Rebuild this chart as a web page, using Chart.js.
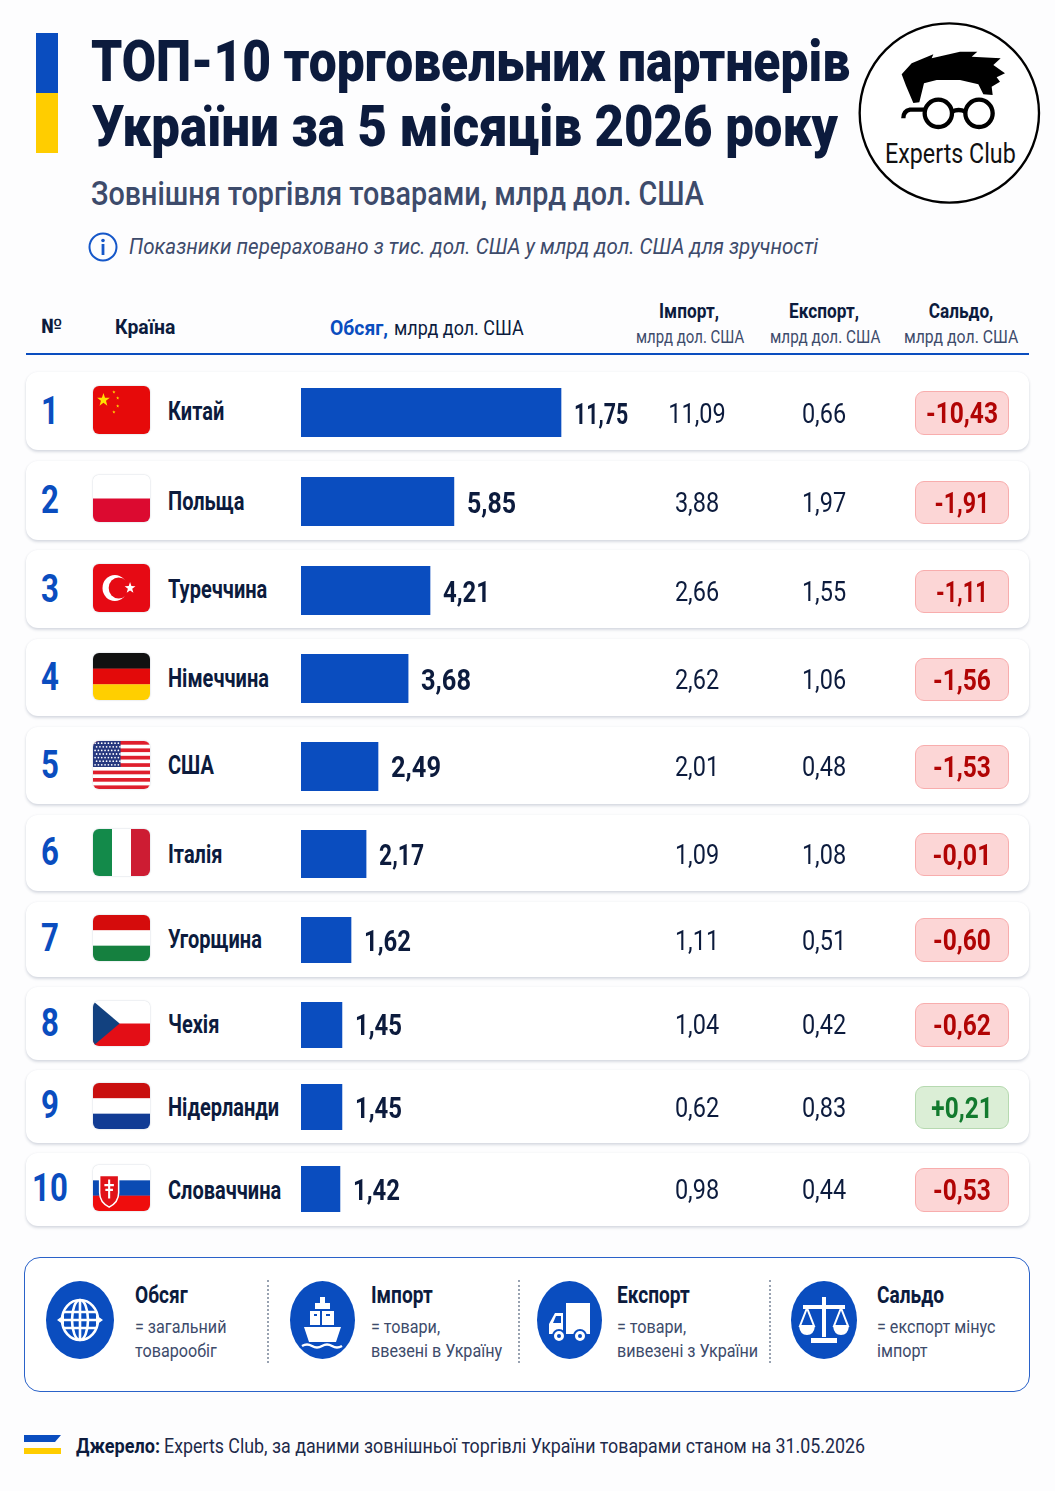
<!DOCTYPE html>
<html lang="uk">
<head>
<meta charset="utf-8">
<title>ТОП-10 торговельних партнерів України</title>
<script src="https://cdn.jsdelivr.net/npm/chart.js@4"></script>
<style>
html, body { margin: 0; padding: 0; }
body { width: 1055px; height: 1491px; position: relative; overflow: hidden; background: #fdfdfe; font-family: Roboto, sans-serif; }
.abs { position: absolute; }
.t { position: absolute; white-space: nowrap; line-height: 1; }
.card { position: absolute; left: 26px; width: 1003px; background: #fff; border-radius: 12px; box-shadow: 0 2px 3px rgba(30, 50, 90, .16), 0 0 3px rgba(30, 50, 90, .05); }
.flag { position: absolute; left: 93px; width: 57px; border-radius: 6px; overflow: hidden; box-shadow: 0 0 1.5px rgba(30, 50, 90, .35); }
.flag svg { display: block; width: 100%; height: 100%; }
.badge { position: absolute; left: 915px; width: 92px; border-radius: 9px; border: 1px solid #f8adad; background: #fcd6d6; }
.badge.plus { border-color: #b6d9b0; background: #dbeed6; }
.bar-wrap { position: absolute; left: 301px; width: 340px; }
.dots { position: absolute; width: 0; top: 1280px; height: 83px; border-left: 2px dotted #98a2b1; }
</style>
</head>
<body>
<script>
const countries = ['Китай', 'Польща', 'Туреччина', 'Німеччина', 'США', 'Італія', 'Угорщина', 'Чехія', 'Нідерланди', 'Словаччина'];
const volumes = [11.75, 5.85, 4.21, 3.68, 2.49, 2.17, 1.62, 1.45, 1.45, 1.42];
// bars in the picture are not in proportion to their labels, so lengths are read off separately (same units as 11,75)
const barLengths = [11.75, 6.91, 5.83, 4.84, 3.48, 2.94, 2.26, 1.85, 1.85, 1.76];
const imports = [11.09, 3.88, 2.66, 2.62, 2.01, 1.09, 1.11, 1.04, 0.62, 0.98];
const exports_ = [0.66, 1.97, 1.55, 1.06, 0.48, 1.08, 0.51, 0.42, 0.83, 0.44];
const balances = [-10.43, -1.91, -1.11, -1.56, -1.53, -0.01, -0.60, -0.62, 0.21, -0.53];
const flagCodes = ['cn', 'pl', 'tr', 'de', 'us', 'it', 'hu', 'cz', 'nl', 'sk'];

// layout, px
const cardTop = [372, 461, 550, 639, 727, 815, 902, 987, 1070, 1153];
const cardBottom = [450, 540, 628, 716, 804, 891, 977, 1060, 1143, 1226];
const barTop = [388, 477, 566, 654, 742, 830, 917, 1002, 1084, 1166];
const barBottom = [437, 526, 615, 703, 791, 878, 963, 1048, 1130, 1212];
const flagTop = [386, 475, 564, 653, 741, 829, 915, 1001, 1083, 1165];
const flagBottom = [434, 522, 612, 700, 789, 876, 961, 1046, 1129, 1211];
const badgeTop = [391, 481, 570, 658, 745, 833, 918, 1003, 1086, 1168];
const badgeBottom = [435, 524, 613, 701, 789, 876, 962, 1047, 1129, 1212];
const rankY = [411, 500, 589, 677, 765, 852, 938, 1023, 1105, 1188];
const nameY = [411, 501, 589, 678, 765, 854, 939, 1024, 1107, 1190];
const valueY = [414, 503, 592, 680, 767, 855, 941, 1025, 1108, 1190];
const labelWidth = [54, 49, 47, 50, 50, 45, 47, 47, 47, 47];
const badgeWidth = [72, 55, 52, 58, 58, 59, 58, 58, 61, 58];

const BLUE = '#0a4dbf', NAVY = '#0c1b3d', SLATE = '#3d4b6b';
const PX_PER_UNIT = 260 / 11.75;

function txt(str, x, cy, o) {
	const el = document.createElement('span');
	el.className = 't';
	el.textContent = str;
	el.style.fontSize = o.size + 'px';
	el.style.fontWeight = o.weight || 400;
	el.style.color = o.color || NAVY;
	if (o.italic) el.style.fontStyle = 'italic';
	el.style.left = x + 'px';
	el.style.top = cy + 'px';
	document.body.appendChild(el);
	let sx = o.sx || 1;
	if (o.w) sx = o.w / el.offsetWidth;
	if (o.center) {
		el.style.transform = `translate(-50%,-50%) scaleX(${sx})`;
	} else {
		el.style.transformOrigin = '0 50%';
		el.style.transform = `translateY(-50%) scaleX(${sx})`;
	}
	return el;
}

function box(cls, x, top, w, h, bg) {
	const el = document.createElement('div');
	el.className = cls;
	if (x !== null) el.style.left = x + 'px';
	el.style.top = top + 'px';
	if (w !== null) el.style.width = w + 'px';
	el.style.height = h + 'px';
	if (bg) el.style.background = bg;
	document.body.appendChild(el);
	return el;
}

function svg(x, y, w, h, vb, inner) {
	const d = document.createElement('div');
	d.className = 'abs';
	d.style.cssText = `left:${x}px;top:${y}px;width:${w}px;height:${h}px`;
	d.innerHTML = `<svg xmlns="http://www.w3.org/2000/svg" width="${w}" height="${h}" viewBox="${vb}" preserveAspectRatio="none" style="display:block">${inner}</svg>`;
	document.body.appendChild(d);
}

function star(cx, cy, r, fill) {
	let p = [];
	for (let i = 0; i < 10; i++) {
		const a = -Math.PI / 2 + i * Math.PI / 5, q = i % 2 ? r * 0.4 : r;
		p.push((cx + q * Math.cos(a)).toFixed(2) + ',' + (cy + q * Math.sin(a)).toFixed(2));
	}
	return `<polygon points="${p.join(' ')}" fill="${fill}"/>`;
}

function stripes(colors) {
	const h = 48 / colors.length;
	return colors.map((c, i) => `<rect x="0" y="${i * h}" width="60" height="${h + .2}" fill="${c}"/>`).join('');
}

function flagSvg(code) {
	if (code === 'cn') return `<rect width="60" height="48" fill="#e60a0a"/>` + star(11, 14, 7, '#ffe000') + star(22, 6, 1.8, '#ffe000') + star(26, 12, 1.8, '#ffe000') + star(26, 20, 1.8, '#ffe000') + star(22, 26, 1.8, '#ffe000');
	if (code === 'pl') return stripes(['#ffffff', '#dc0a30']);
	if (code === 'tr') return `<rect width="60" height="48" fill="#e60a14"/><circle cx="23" cy="24" r="13" fill="#fff"/><circle cx="27" cy="24" r="10.5" fill="#e60a14"/>` + star(39, 24, 6, '#fff');
	if (code === 'de') return stripes(['#111111', '#e30a0a', '#ffcf00']);
	if (code === 'us') {
		let s = '<rect width="60" height="48" fill="#fff"/>';
		for (let i = 0; i < 7; i++) s += `<rect y="${i * 7.4}" width="60" height="3.7" fill="#df1f2d"/>`;
		s += '<rect width="29" height="26" fill="#27397f"/>';
		for (let r = 0; r < 7; r++) for (let c = 0; c < 8; c++) s += `<circle cx="${2.2 + c * 3.5 + (r % 2) * 1.6}" cy="${2.2 + r * 3.6}" r=".9" fill="#fff"/>`;
		return s;
	}
	if (code === 'it') return `<rect width="20" height="48" fill="#138a4a"/><rect x="20" width="20" height="48" fill="#fff"/><rect x="40" width="20" height="48" fill="#cd1c33"/>`;
	if (code === 'hu') return stripes(['#d50c0c', '#ffffff', '#15803f']);
	if (code === 'cz') return stripes(['#ffffff', '#e30e16']) + `<polygon points="0,0 28,24 0,48" fill="#12417f"/>`;
	if (code === 'nl') return stripes(['#c9100f', '#ffffff', '#123c94']);
	if (code === 'sk') return stripes(['#ffffff', '#0b4bb3', '#ef0d0d']) + `<path d="M7 11h20v18c0 9-6 13-10 15c-4-2-10-6-10-15z" fill="#e11218" stroke="#fff" stroke-width="1.6"/><path d="M17 15v20M12 21h10M13 26h8" stroke="#fff" stroke-width="2.2"/>`;
	return '';
}

function fmt(v) { return v.toFixed(2).replace('.', ','); }
function fmtBalance(v) { return (v > 0 ? '+' : '-') + fmt(Math.abs(v)); }

// header
box('abs', 36, 33, 22, 60, '#0a4dbf');
box('abs', 36, 93, 22, 60, '#ffcd00');
txt('ТОП-10 торговельних партнерів', 91, 61, { size: 58, weight: 900, w: 759 });
txt('України за 5 місяців 2026 року', 92, 126, { size: 58, weight: 900, w: 746 });
txt('Зовнішня торгівля товарами, млрд дол. США', 91, 193, { size: 33, weight: 500, color: SLATE, w: 613 });
svg(88, 232, 30, 30, '0 0 30 30', `<circle cx="15" cy="15" r="13.5" fill="none" stroke="#1557c9" stroke-width="2"/><circle cx="15" cy="8.5" r="1.8" fill="#1557c9"/><rect x="13.6" y="12" width="2.8" height="11" fill="#1557c9"/>`);
txt('Показники перераховано з тис. дол. США у млрд дол. США для зручності', 129, 247, { size: 22, italic: true, color: SLATE, w: 689 });

// logo
svg(850, 15, 200, 200, '0 0 600 600', `
<circle cx="298" cy="294" r="269" fill="#fff" stroke="#000" stroke-width="7"/>
<path d="M190 264 L168 212 L155 178 L185 145 L250 118 L245 130 L330 110 L382 110 L365 125 L452 130 L430 150 L465 175 L440 187 L450 200 L425 215 L428 240 L400 238 L385 208 L330 195 L260 195 L222 205 L208 262 Z" fill="#000"/>
<g fill="none" stroke="#000" stroke-width="13"><circle cx="265" cy="295" r="41"/><circle cx="387" cy="295" r="41"/><path d="M306 290 Q326 280 346 290"/><path d="M226 284 L180 284 Q160 288 160 310"/></g>`);
txt('Experts Club', 885, 154, { size: 27, color: '#111', w: 131 });

// table header
txt('№', 41, 326, { size: 20, weight: 700, w: 21 });
txt('Країна', 115, 327, { size: 21, weight: 700, w: 60 });
txt('Обсяг,', 330, 328, { size: 21, weight: 700, color: BLUE, w: 58 });
txt('млрд дол. США', 394, 328, { size: 20, w: 130 });
const heads = [['Імпорт,', 689, 636, 108], ['Експорт,', 824, 770, 110], ['Сальдо,', 961, 904, 114]];
heads.forEach(h => {
	txt(h[0], h[1], 311, { size: 21, weight: 700, center: true, sx: 0.82 });
	txt('млрд дол. США', h[2], 336, { size: 19, color: SLATE, w: h[3] });
});
box('abs', 26, 353, 1003, 2, '#0a4dbf');

// rows
const rowCharts = [];
countries.forEach((name, i) => {
	box('card', null, cardTop[i], null, cardBottom[i] - cardTop[i]);

	const f = box('flag', null, flagTop[i], null, flagBottom[i] - flagTop[i]);
	f.innerHTML = `<svg xmlns="http://www.w3.org/2000/svg" viewBox="0 0 60 48" preserveAspectRatio="none">${flagSvg(flagCodes[i])}</svg>`;

	const wrap = box('bar-wrap', null, barTop[i], null, barBottom[i] - barTop[i]);
	const cv = document.createElement('canvas');
	cv.width = 340;
	cv.height = barBottom[i] - barTop[i];
	wrap.appendChild(cv);
	const chart = new Chart(cv.getContext('2d'), {
		type: 'bar',
		data: {
			labels: [name],
			datasets: [{ label: 'Обсяг', data: [barLengths[i]], backgroundColor: BLUE, barPercentage: 1, categoryPercentage: 1 }]
		},
		options: {
			indexAxis: 'y',
			responsive: false,
			animation: false,
			layout: { padding: 0 },
			plugins: { legend: { display: false }, tooltip: { enabled: false } },
			scales: {
				x: { display: false, min: 0, max: 340 / PX_PER_UNIT },
				y: { display: false }
			}
		}
	});
	rowCharts.push(chart);
	const barEnd = 301 + chart.scales.x.getPixelForValue(barLengths[i]);

	txt(String(i + 1), 50, rankY[i], { size: 39, weight: 700, color: BLUE, center: true, sx: 0.8 });
	txt(name, 168, nameY[i], { size: 25, weight: 700, sx: 0.8 });
	txt(fmt(volumes[i]), barEnd + 13, valueY[i], { size: 30, weight: 700, w: labelWidth[i] });
	txt(fmt(imports[i]), 697, valueY[i], { size: 27, center: true, sx: 0.87 });
	txt(fmt(exports_[i]), 824, valueY[i], { size: 27, center: true, sx: 0.87 });

	const plus = balances[i] > 0;
	box('badge' + (plus ? ' plus' : ''), null, badgeTop[i], null, badgeBottom[i] - badgeTop[i] - 2);
	const by = (badgeTop[i] + badgeBottom[i]) / 2;
	const bt = txt(fmtBalance(balances[i]), 962, by, { size: 30, weight: 700, color: plus ? '#127a2e' : '#b10404', center: true });
	bt.style.transform = `translate(-50%,-50%) scaleX(${badgeWidth[i] / bt.offsetWidth})`;
});

// legend panel
const panel = box('abs', 24, 1257, 1004, 133, '#fff');
panel.style.border = '1.5px solid #2a62c9';
panel.style.borderRadius = '16px';
[267, 518, 769].forEach(x => box('dots', x, 1280, null, 83));

const icons = [
	[46, 68, `<g fill="none" stroke="#fff" stroke-width="2.6"><ellipse cx="34" cy="39" rx="18" ry="20"/><ellipse cx="34" cy="39" rx="8" ry="20"/><path d="M34 19v40M17 31h34M15 39h38M17 47h34"/></g><path d="M11 39l7-5v10zM57 39l-7-5v10z" fill="#fff"/>`],
	[290, 65, `<path d="M30 16h5v8h-5zM25 22h15v6h-15zM20 30h24v14h-24z" fill="#fff"/><path d="M14 46h37l-5 15h-27z" fill="#fff"/><path d="M12 65q5-3 10 0t10 0t10 0t10 0" fill="none" stroke="#fff" stroke-width="2.4"/><path d="M31 30v14M24 34h3M36 34h4" stroke="#0a4dbf" stroke-width="2"/>`],
	[537, 65, `<path d="M29 22h24v31h-24z" fill="#fff"/><path d="M26 32h-8l-6 11v10h14z" fill="#fff"/><path d="M19 35h5v7h-8z" fill="#0a4dbf"/><circle cx="22" cy="55" r="6" fill="#fff" stroke="#0a4dbf" stroke-width="2"/><circle cx="43" cy="55" r="6" fill="#fff" stroke="#0a4dbf" stroke-width="2"/><circle cx="22" cy="55" r="2" fill="#0a4dbf"/><circle cx="43" cy="55" r="2" fill="#0a4dbf"/>`],
	[791, 66, `<path d="M31 16h4v40h-4zM12 24h42v4h-42zM20 57h26v5h-26z" fill="#fff"/><path d="M16 27l-7 18h14zM50 27l-7 18h14z" fill="none" stroke="#fff" stroke-width="2"/><path d="M8 45h16q-1 9-8 9t-8-9zM42 45h16q-1 9-8 9t-8-9z" fill="#fff"/>`]
];
icons.forEach(ic => svg(ic[0], 1281, ic[1], 78, `0 0 ${ic[1]} 78`, `<ellipse cx="${ic[1] / 2}" cy="39" rx="${ic[1] / 2}" ry="39" fill="#0a4dbf"/>${ic[2]}`));

const legendTitles = ['Обсяг', 'Імпорт', 'Експорт', 'Сальдо'];
const legendLine1 = ['= загальний', '= товари,', '= товари,', '= експорт мінус'];
const legendLine2 = ['товарообіг', 'ввезені в Україну', 'вивезені з України', 'імпорт'];
const legendX = [135, 371, 617, 877];
legendTitles.forEach((t, i) => {
	txt(t, legendX[i], 1295, { size: 23, weight: 700, sx: 0.83 });
	txt(legendLine1[i], legendX[i], 1326, { size: 19, color: SLATE, sx: 0.85 });
	txt(legendLine2[i], legendX[i], 1350, { size: 19, color: SLATE, sx: 0.85 });
});

// source
svg(24, 1435, 38, 20, '0 0 38 20', `<polygon points="0,0 37,0 31,7 0,7" fill="#0a4dbf"/><polygon points="0,13 32,13 37,13 37,19 0,19" fill="#ffcd00"/>`);
txt('Джерело:', 76, 1446, { size: 20, weight: 700, w: 84 });
txt('Experts Club, за даними зовнішньої торгівлі України товарами станом на 31.05.2026', 164, 1446, { size: 20, color: '#1d2a4a', w: 701 });
</script>
</body>
</html>
